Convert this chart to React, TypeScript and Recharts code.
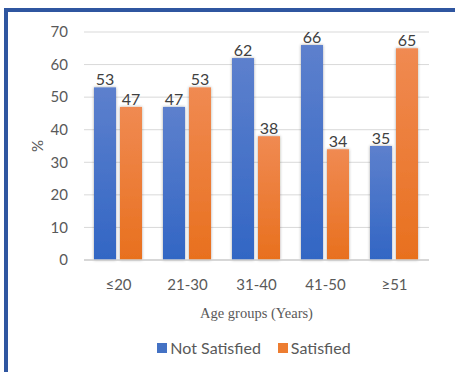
import React from 'react';
import { BarChart, Bar, XAxis, YAxis, CartesianGrid, Legend, LabelList, Label } from 'recharts';

const categories = ['≤20', '21-30', '31-40', '41-50', '≥51'];
const notSatisfied = [53, 47, 62, 66, 35];
const satisfied = [47, 53, 38, 34, 65];
const yTicks = [0, 10, 20, 30, 40, 50, 60, 70];

const data = categories.map((c, i) => ({ group: c, notSatisfied: notSatisfied[i], satisfied: satisfied[i] }));

const FONT = 'Lato, "Open Sans", sans-serif';
const TEXT = '#595959';

const ShadowBar = (props: any) => {
  const { x, y, width, height, fill } = props;
  if (height == null || height <= 0) return null;
  return <rect x={x} y={y} width={width} height={height} fill={fill} filter="url(#barShadow)" />;
};

const LegendContent = () => (
  <div style={{ display: 'flex', justifyContent: 'center', paddingTop: 7, paddingLeft: 79, fontFamily: FONT, fontSize: 16, color: TEXT, lineHeight: '18px' }}>
    <div style={{ display: 'flex', alignItems: 'center', marginRight: 17 }}>
      <span style={{ display: 'inline-block', width: 10, height: 10, background: '#4472c4', marginRight: 3 }} />
      <span>Not Satisfied</span>
    </div>
    <div style={{ display: 'flex', alignItems: 'center' }}>
      <span style={{ display: 'inline-block', width: 10, height: 10, background: '#ed7d31', marginRight: 3 }} />
      <span>Satisfied</span>
    </div>
  </div>
);

export default function App() {
  return (
    <div style={{ position: 'absolute', left: 0, top: 0, width: 455, height: 372, background: '#fff', overflow: 'hidden' }}>
      <div style={{ position: 'absolute', left: 4, top: 8, width: 451, height: 364, borderLeft: '4px solid #2f56a0', borderTop: '4px solid #2f56a0', boxSizing: 'border-box' }} />
      <BarChart
        width={455}
        height={372}
        data={data}
        margin={{ top: 32, right: 26, left: 0, bottom: 0 }}
        barCategoryGap="14.5%"
        barGap={4}
      >
        <defs>
          <linearGradient id="gBlue" x1="0" y1="0" x2="0" y2="1">
            <stop offset="0%" stopColor="#5d80cd" />
            <stop offset="100%" stopColor="#3266c4" />
          </linearGradient>
          <linearGradient id="gOrange" x1="0" y1="0" x2="0" y2="1">
            <stop offset="0%" stopColor="#f08a52" />
            <stop offset="100%" stopColor="#e8701e" />
          </linearGradient>
          <filter id="barShadow" x="-30%" y="-10%" width="160%" height="120%">
            <feDropShadow dx="0" dy="0" stdDeviation="1.5" floodColor="#000" floodOpacity="0.35" />
          </filter>
        </defs>
        <CartesianGrid vertical={false} stroke="#d9d9d9" strokeWidth={1} />
        <XAxis
          dataKey="group"
          height={72}
          tickLine={false}
          axisLine={{ stroke: '#d0d0d0', strokeWidth: 1.5 }}
          tickSize={0}
          tickMargin={19}
          tick={{ fill: TEXT, fontSize: 15, fontFamily: FONT }}
        >
          <Label
            value="Age groups (Years)"
            position="insideBottom"
            offset={14}
            style={{ fill: TEXT, fontSize: 14.5, fontFamily: '"Liberation Serif", "Times New Roman", serif' }}
          />
        </XAxis>
        <YAxis
          width={84}
          domain={[0, 70]}
          ticks={yTicks}
          interval={0}
          axisLine={false}
          tickLine={false}
          tickSize={0}
          tickMargin={16}
          tick={{ fill: TEXT, fontSize: 15, fontFamily: FONT }}
        >
          <Label
            content={(p: any) => {
              const vb = p.viewBox || {};
              const cx = (vb.x || 0) + 37;
              const cy = (vb.y || 0) + (vb.height || 0) / 2;
              return (
                <text x={cx} y={cy} transform={`rotate(-90, ${cx}, ${cy})`} textAnchor="middle" dominantBaseline="central" fill={TEXT} fontSize={15} fontFamily={FONT}>
                  %
                </text>
              );
            }}
          />
        </YAxis>
        <Legend verticalAlign="bottom" height={40} content={<LegendContent />} />
        <Bar dataKey="notSatisfied" name="Not Satisfied" fill="url(#gBlue)" shape={<ShadowBar />} isAnimationActive={false}>
          <LabelList dataKey="notSatisfied" position="top" offset={2} fill="#404040" fontSize={16} fontFamily={FONT} />
        </Bar>
        <Bar dataKey="satisfied" name="Satisfied" fill="url(#gOrange)" shape={<ShadowBar />} isAnimationActive={false}>
          <LabelList dataKey="satisfied" position="top" offset={2} fill="#404040" fontSize={16} fontFamily={FONT} />
        </Bar>
      </BarChart>
    </div>
  );
}
